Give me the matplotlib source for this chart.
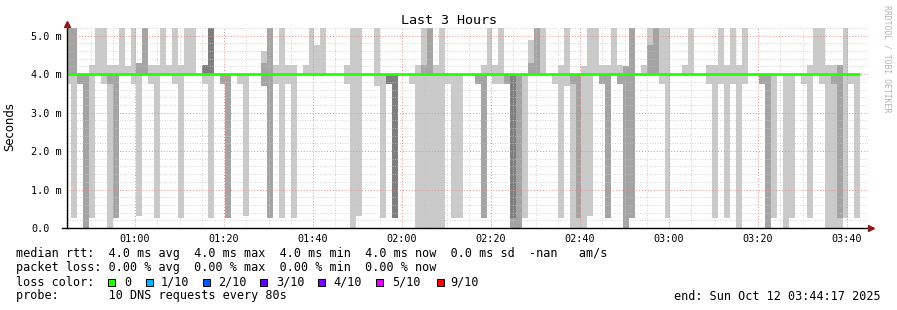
import numpy as np
import matplotlib
matplotlib.use("Agg")
import matplotlib.pyplot as plt
from matplotlib.patches import Rectangle

# ten sorted DNS round trip times (ms) for every 80 s step, first step 00:44:20
pings = [
    [3.75, 4, 4, 4, 4, 4, 4, 4, 5.3, 5.3],
    [0.25, 4, 4, 4, 4, 4, 4, 4, 5.3, 5.3],
    [3.75, 3.75, 4, 4, 4, 4, 4, 4, 4, 4],
    [0, 0, 4, 4, 4, 4, 4, 4, 4, 4],
    [0.25, 4, 4, 4, 4, 4, 4, 4, 4, 4.25],
    [4, 4, 4, 4, 4, 4, 4, 4, 4, 5.3],
    [3.75, 4, 4, 4, 4, 4, 4, 4, 4, 5.3],
    [0, 3.75, 4, 4, 4, 4, 4, 4, 4, 4.25],
    [0.25, 0.25, 4, 4, 4, 4, 4, 4, 4, 4.25],
    [4, 4, 4, 4, 4, 4, 4, 4, 4, 5.3],
    [4, 4, 4, 4, 4, 4, 4, 4, 4, 4.2],
    [3.75, 4, 4, 4, 4, 4, 4, 4, 4, 5.3],
    [0.3, 4, 4, 4, 4, 4, 4, 4, 4.3, 4.3],
    [4, 4, 4, 4, 4, 4, 4, 4, 5.3, 5.3],
    [3.75, 4, 4, 4, 4, 4, 4, 4, 4, 4.25],
    [0.25, 4, 4, 4, 4, 4, 4, 4, 4, 4.25],
    [4, 4, 4, 4, 4, 4, 4, 4, 4, 5.3],
    [4, 4, 4, 4, 4, 4, 4, 4, 4, 4.25],
    [3.75, 4, 4, 4, 4, 4, 4, 4, 4, 5.3],
    [0.25, 4, 4, 4, 4, 4, 4, 4, 4, 4.25],
    [4, 4, 4, 4, 4, 4, 4, 4, 4, 5.3],
    [4, 4, 4, 4, 4, 4, 4, 4, 4, 5.3],
    [4, 4, 4, 4, 4, 4, 4, 4, 4, 4],
    [3.75, 4, 4, 4, 4, 4, 4, 4.25, 4.25, 4.25],
    [0.25, 4, 4, 4, 4, 4, 4, 5.3, 5.3, 5.3],
    [4, 4, 4, 4, 4, 4, 4, 4, 4, 4],
    [3.75, 3.75, 4, 4, 4, 4, 4, 4, 4, 4],
    [0.25, 0.25, 4, 4, 4, 4, 4, 4, 4, 4],
    [4, 4, 4, 4, 4, 4, 4, 4, 4, 4],
    [3.75, 4, 4, 4, 4, 4, 4, 4, 4, 4],
    [0.3, 4, 4, 4, 4, 4, 4, 4, 4, 4],
    [4, 4, 4, 4, 4, 4, 4, 4, 4, 4],
    [4, 4, 4, 4, 4, 4, 4, 4, 4, 4],
    [3.7, 3.7, 4, 4, 4, 4, 4, 4, 4.3, 4.6],
    [0.25, 0.25, 4, 4, 4, 4, 4, 4, 5.3, 5.3],
    [3.75, 4, 4, 4, 4, 4, 4, 4, 4, 4.25],
    [0.25, 4, 4, 4, 4, 4, 4, 4, 4, 5.3],
    [3.75, 4, 4, 4, 4, 4, 4, 4, 4, 4.25],
    [0.25, 4, 4, 4, 4, 4, 4, 4, 4, 4.25],
    [4, 4, 4, 4, 4, 4, 4, 4, 4, 4],
    [4, 4, 4, 4, 4, 4, 4, 4, 4, 4.25],
    [4, 4, 4, 4, 4, 4, 4, 4, 4, 5.3],
    [4, 4, 4, 4, 4, 4, 4, 4, 4, 4.75],
    [4, 4, 4, 4, 4, 4, 4, 4, 4, 5.3],
    [4, 4, 4, 4, 4, 4, 4, 4, 4, 4],
    [4, 4, 4, 4, 4, 4, 4, 4, 4, 4],
    [4, 4, 4, 4, 4, 4, 4, 4, 4, 4],
    [3.75, 4, 4, 4, 4, 4, 4, 4, 4, 4.25],
    [0, 4, 4, 4, 4, 4, 4, 4, 4, 5.3],
    [0.3, 4, 4, 4, 4, 4, 4, 4, 4, 5.3],
    [4, 4, 4, 4, 4, 4, 4, 4, 4, 4],
    [4, 4, 4, 4, 4, 4, 4, 4, 4, 4],
    [3.7, 4, 4, 4, 4, 4, 4, 4, 4, 5.3],
    [0.25, 4, 4, 4, 4, 4, 4, 4, 4, 4],
    [3.75, 3.75, 3.75, 4, 4, 4, 4, 4, 4, 4],
    [0.25, 0.25, 0.25, 4, 4, 4, 4, 4, 4, 4],
    [4, 4, 4, 4, 4, 4, 4, 4, 4, 4],
    [4, 4, 4, 4, 4, 4, 4, 4, 4, 4],
    [3.75, 4, 4, 4, 4, 4, 4, 4, 4, 4],
    [0, 4, 4, 4, 4, 4, 4, 4, 4, 4.25],
    [0, 4, 4, 4, 4, 4, 4, 4, 4.25, 5.3],
    [0, 4, 4, 4, 4, 4, 4, 4, 5.3, 5.3],
    [0, 4, 4, 4, 4, 4, 4, 4, 4, 4.25],
    [0, 4, 4, 4, 4, 4, 4, 4, 4, 5.3],
    [3.75, 4, 4, 4, 4, 4, 4, 4, 4, 4],
    [0.25, 4, 4, 4, 4, 4, 4, 4, 4, 4],
    [0.25, 4, 4, 4, 4, 4, 4, 4, 4, 4],
    [4, 4, 4, 4, 4, 4, 4, 4, 4, 4],
    [4, 4, 4, 4, 4, 4, 4, 4, 4, 4],
    [3.75, 3.75, 4, 4, 4, 4, 4, 4, 4, 4],
    [0.25, 0.25, 4, 4, 4, 4, 4, 4, 4, 4.25],
    [4, 4, 4, 4, 4, 4, 4, 4, 4, 5.3],
    [3.75, 4, 4, 4, 4, 4, 4, 4, 4, 4.25],
    [3.75, 4, 4, 4, 4, 4, 4, 4, 4, 5.3],
    [3.75, 3.75, 4, 4, 4, 4, 4, 4, 4, 4],
    [0, 0, 0.25, 4, 4, 4, 4, 4, 4, 4],
    [0, 0, 4, 4, 4, 4, 4, 4, 4, 4],
    [0.25, 4, 4, 4, 4, 4, 4, 4, 4, 4],
    [4, 4, 4, 4, 4, 4, 4, 4, 4.3, 4.9],
    [4, 4, 4, 4, 4, 4, 4, 4, 5.3, 5.3],
    [4, 4, 4, 4, 4, 4, 4, 4, 4, 5.3],
    [4, 4, 4, 4, 4, 4, 4, 4, 4, 4],
    [3.75, 4, 4, 4, 4, 4, 4, 4, 4, 4],
    [0.25, 4, 4, 4, 4, 4, 4, 4, 4, 4.25],
    [3.7, 4, 4, 4, 4, 4, 4, 4, 4, 5.3],
    [0, 3.75, 4, 4, 4, 4, 4, 4, 4, 4],
    [0, 0.25, 4, 4, 4, 4, 4, 4, 4, 4],
    [0, 4, 4, 4, 4, 4, 4, 4, 4, 4.2],
    [0.3, 4, 4, 4, 4, 4, 4, 4, 4, 5.3],
    [4, 4, 4, 4, 4, 4, 4, 4, 4, 5.3],
    [3.75, 3.75, 4, 4, 4, 4, 4, 4, 4, 4.25],
    [0.25, 0.25, 4, 4, 4, 4, 4, 4, 4, 4.25],
    [4, 4, 4, 4, 4, 4, 4, 4, 4, 5.3],
    [3.75, 3.75, 4, 4, 4, 4, 4, 4, 4, 4.25],
    [0, 0, 4, 4, 4, 4, 4, 4, 4.2, 4.2],
    [0.25, 0.25, 4, 4, 4, 4, 4, 4, 5.3, 5.3],
    [4, 4, 4, 4, 4, 4, 4, 4, 4, 4],
    [4, 4, 4, 4, 4, 4, 4, 4, 4, 4.25],
    [4, 4, 4, 4, 4, 4, 4, 4, 4.75, 5.3],
    [4, 4, 4, 4, 4, 4, 4, 4, 5.3, 5.3],
    [3.75, 4, 4, 4, 4, 4, 4, 4, 4, 5.3],
    [0.25, 4, 4, 4, 4, 4, 4, 4, 4, 5.3],
    [4, 4, 4, 4, 4, 4, 4, 4, 4, 4],
    [4, 4, 4, 4, 4, 4, 4, 4, 4, 4],
    [4, 4, 4, 4, 4, 4, 4, 4, 4, 4.25],
    [4, 4, 4, 4, 4, 4, 4, 4, 4, 5.3],
    [4, 4, 4, 4, 4, 4, 4, 4, 4, 4],
    [4, 4, 4, 4, 4, 4, 4, 4, 4, 4],
    [3.75, 4, 4, 4, 4, 4, 4, 4, 4, 4.25],
    [0.25, 4, 4, 4, 4, 4, 4, 4, 4, 4.25],
    [3.75, 4, 4, 4, 4, 4, 4, 4, 4, 5.3],
    [0.25, 4, 4, 4, 4, 4, 4, 4, 4, 4.25],
    [3.75, 4, 4, 4, 4, 4, 4, 4, 4, 5.3],
    [0, 4, 4, 4, 4, 4, 4, 4, 4, 4.25],
    [3.75, 4, 4, 4, 4, 4, 4, 4, 4, 5.3],
    [4, 4, 4, 4, 4, 4, 4, 4, 4, 4],
    [4, 4, 4, 4, 4, 4, 4, 4, 4, 4],
    [3.75, 3.75, 4, 4, 4, 4, 4, 4, 4, 4],
    [0, 0, 4, 4, 4, 4, 4, 4, 4, 4],
    [0.25, 4, 4, 4, 4, 4, 4, 4, 4, 4],
    [4, 4, 4, 4, 4, 4, 4, 4, 4, 4],
    [0, 4, 4, 4, 4, 4, 4, 4, 4, 4],
    [0.25, 4, 4, 4, 4, 4, 4, 4, 4, 4],
    [4, 4, 4, 4, 4, 4, 4, 4, 4, 4],
    [3.75, 4, 4, 4, 4, 4, 4, 4, 4, 4],
    [0.25, 4, 4, 4, 4, 4, 4, 4, 4, 4.25],
    [4, 4, 4, 4, 4, 4, 4, 4, 4, 5.3],
    [3.75, 4, 4, 4, 4, 4, 4, 4, 4, 5.3],
    [0, 4, 4, 4, 4, 4, 4, 4, 4, 4.25],
    [0, 3.75, 4, 4, 4, 4, 4, 4, 4, 4.25],
    [0, 0.25, 4, 4, 4, 4, 4, 4, 4.25, 4.25],
    [0.25, 4, 4, 4, 4, 4, 4, 4, 4, 5.3],
    [3.75, 4, 4, 4, 4, 4, 4, 4, 4, 4],
    [0.25, 4, 4, 4, 4, 4, 4, 4, 4, 4],
]
start_min = 44 + 20 / 60     # 00:44:20
step_min = 80 / 60

view_start = 44 + 43 / 60    # 00:44:43
view_end = view_start + 180

tick_minutes = [60, 80, 100, 120, 140, 160, 180, 200, 220]
tick_labels = ["01:00", "01:20", "01:40", "02:00", "02:20", "02:40", "03:00", "03:20", "03:40"]
y_ticks = [0, 1, 2, 3, 4, 5]
y_labels = ["0.0", "1.0 m", "2.0 m", "3.0 m", "4.0 m", "5.0 m"]

loss_labels = ["0", "1/10", "2/10", "3/10", "4/10", "5/10", "9/10"]
loss_colors = ["#26ff00", "#00b8ff", "#0059ff", "#5e00ff", "#7e00ff", "#dd00ff", "#ff0000"]

W, H = 897, 310
MONO = "DejaVu Sans Mono"

fig = plt.figure(figsize=(W / 100, H / 100), dpi=100)
fig.patch.set_facecolor("white")
ax = fig.add_axes([67 / W, (H - 228) / H, 801 / W, 200 / H])

p = np.array(pings, dtype=float)
n = len(p)
edges = start_min + step_min * np.arange(n + 1)

# smoke: pair k spans ping k .. ping (10-k), darker towards the middle
half = p.shape[1] // 2
for k in range(half):
    g = int(190 / half * (half - (k + 1))) + 50
    col = "#%02x%02x%02x" % (g, g, g)
    ax.stairs(p[:, -1 - k], edges, baseline=p[:, k], fill=True,
              color=col, lw=0, zorder=1)

median = np.median(p, axis=1)
ax.stairs(median, edges, baseline=None, color=loss_colors[0], lw=2.0, zorder=3)

ax.set_xlim(view_start, view_end)
ax.set_ylim(0, 5.2)

ax.set_xticks(tick_minutes)
ax.set_xticklabels(tick_labels, fontfamily=MONO, fontsize=7.3)
ax.set_xticks(np.arange(45, 225, 5), minor=True)
ax.set_yticks(y_ticks)
ax.set_yticklabels(y_labels, fontfamily=MONO, fontsize=7.3)
ax.set_yticks(np.arange(0, 5.21, 0.2), minor=True)
for lab in ax.get_yticklabels():
    lab.set_ha("left")
ax.tick_params(axis="x", which="both", length=0, pad=4)
ax.tick_params(axis="y", which="both", length=0, pad=26)

ax.set_axisbelow(False)
ax.grid(which="minor", color="#c4c4c4", lw=0.6, linestyle=(0, (1, 2)))
ax.grid(which="major", color="#f08a8a", lw=0.7, linestyle=(0, (1, 2)))
for s in ax.spines.values():
    s.set_visible(False)

# axis lines with rrdtool style arrows
ax.plot([-5 / 801, 1.0], [0, 0], transform=ax.transAxes, color="black",
        lw=1.0, clip_on=False, zorder=4)
ax.plot([0, 0], [0, 1.01], transform=ax.transAxes, color="black",
        lw=1.0, clip_on=False, zorder=4)
ax.plot([1.004], [0], transform=ax.transAxes, marker=">", ms=4,
        color="#8b1a1a", clip_on=False, zorder=5)
ax.plot([0], [1.02], transform=ax.transAxes, marker="^", ms=4,
        color="#8b1a1a", clip_on=False, zorder=5)

ax.set_ylabel("Seconds", fontsize=8.4, fontfamily="DejaVu Sans")
ax.yaxis.set_label_coords(-(67 - 16) / 801, (228 - 127) / 200)


def px_text(x, y, s, **kw):
    fig.text(x / W, 1 - y / H, s, va="center", fontfamily=MONO, **kw)


px_text(448.5, 20, "Last 3 Hours", ha="center", fontsize=9.6)
px_text(887, 5, "RRDTOOL / TOBI OETIKER", ha="center", fontsize=5.9,
        color="#b4b4b4", rotation=270)
fig.texts[-1].set_va("top")

FS = 8.5
px_text(16, 254, "median rtt:  4.0 ms avg  4.0 ms max  4.0 ms min  4.0 ms now"
        "  0.0 ms sd  -nan   am/s", fontsize=FS)
px_text(16, 268, "packet loss: 0.00 % avg  0.00 % max  0.00 % min  0.00 % now",
        fontsize=FS)
px_text(16, 282, "loss color:", fontsize=FS)
box_x = [108, 146, 203, 260, 318, 376, 437]
text_x = [124, 160.5, 218, 276, 333, 392, 450]
for bx, tx, lab, col in zip(box_x, text_x, loss_labels, loss_colors):
    fig.add_artist(Rectangle((bx / W, 1 - 285.5 / H), 7 / W, 7 / H,
                             transform=fig.transFigure, facecolor=col,
                             edgecolor="black", lw=0.7))
    px_text(tx, 282, lab, fontsize=FS)
px_text(16, 296, "probe:       10 DNS requests every 80s", fontsize=FS)
px_text(881, 296, "end: Sun Oct 12 03:44:17 2025", ha="right", fontsize=FS)

fig.savefig("out.png", dpi=100, facecolor="white")
